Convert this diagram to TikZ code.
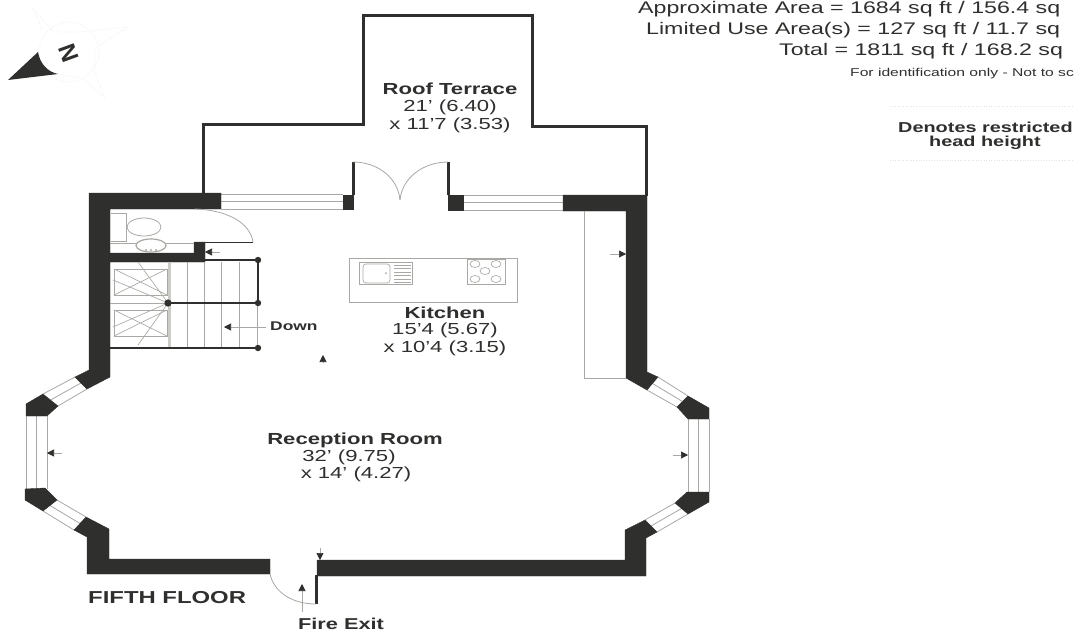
\documentclass[tikz,border=0pt]{standalone}
\usepackage{fontspec}
\setmainfont[FakeStretch=1.38]{Liberation Sans}
\newfontfamily\plainsans{Liberation Sans}
\usetikzlibrary{arrows.meta,calc}
\definecolor{ink}{HTML}{2F2F2D}
\definecolor{soft}{HTML}{A8A8A4}
\definecolor{faint}{HTML}{E2E2E0}
\tikzset{
  wall/.style={fill=ink,draw=ink,line width=0.4pt},
  thick wall/.style={draw=ink,line width=3pt,line cap=butt,line join=miter},
  stair wall/.style={draw=ink,line width=2.4pt},
  fine/.style={draw=soft,line width=0.8pt},
  finer/.style={draw=soft,line width=0.65pt},
  ghost/.style={draw=faint,line width=0.6pt,dotted},
  pointer/.style={draw=soft,line width=0.6pt,-{Triangle[length=7pt,width=7pt,color=ink]}},
  room/.style={font=\fontsize{16}{17}\selectfont\bfseries,text=ink,inner sep=0pt},
  size/.style={font=\fontsize{16}{17}\selectfont,text=ink,inner sep=0pt},
  area/.style={font=\fontsize{16.8}{18}\selectfont,text=ink,inner sep=0pt,anchor=west},
  small/.style={font=\fontsize{11.35}{12}\selectfont,text=ink,inner sep=0pt,anchor=west},
  note/.style={font=\fontsize{14.4}{15}\selectfont\bfseries,text=ink,inner sep=0pt},
}
\newcommand{\glazing}[4]{%
  \draw[fine] #1 -- #2;
  \draw[fine] #3 -- #4;
  \draw[fine] ($#1!0.5!#3$) -- ($#2!0.5!#4$);
}
\begin{document}
\begin{tikzpicture}[x=1pt,y=-1pt]
\useasboundingbox (0,0) rectangle (1074,633);
\fill[white] (0,0) rectangle (1074,633);
\clip (0,0) rectangle (1074,633);

% compass
\draw[ghost] (33,9) -- (54,32) -- (82,32) -- (128,27) -- (95,48) -- (95,72) -- (104,97) -- (82,78) -- (58,74);
\draw[ghost] (33,9) -- (42,30);
\draw[ghost] (69,52) circle (30);
\fill[ink] (8,80) -- (38,52) .. controls (40,64) and (48,72) .. (58,74) -- cycle;
\node[rotate=110,font=\plainsans\fontsize{24}{24}\selectfont\bfseries,text=ink,inner sep=0pt] (north) at (69,53) {N};

% roof terrace outline
\draw[thick wall] (203,194) -- (203,124.5) -- (363,124.5) -- (363,15.5) -- (532,15.5) -- (532,126.5) -- (646,126.5) -- (646,196);
\draw[thick wall] (353,195) -- (353,162);
\draw[thick wall] (448,195) -- (448,162);
\draw[fine] (353,162) .. controls (378,162) and (398,178) .. (400,200);
\draw[fine] (448,162) .. controls (423,162) and (402,178) .. (400,200);

% windows
\glazing{(221,194)}{(343,194)}{(221,209)}{(343,209)}
\glazing{(463,195)}{(563,195)}{(463,210)}{(563,210)}
\glazing{(26,416)}{(26,489)}{(47,416)}{(47,489)}
\glazing{(688,419)}{(688,492)}{(709,419)}{(709,492)}
\glazing{(43,394)}{(75,377)}{(58,406)}{(87,389)}
\glazing{(43,511)}{(74,530)}{(57,500)}{(86,517)}
\glazing{(688,396)}{(658,377)}{(677,407)}{(647,390)}
\glazing{(688,514)}{(657,532)}{(675,503)}{(645,520)}

% solid walls
\fill[wall] (89,193) -- (221,193) -- (221,209) -- (110,209) -- (110,253) -- (194,253) -- (194,242) -- (205,242) -- (205,262) -- (110,262) -- (110,377) -- (87,389) -- (75,377) -- (89,370) -- cycle;
\fill[wall] (343,195) -- (353,195) -- (353,209) -- (343,209) -- cycle;
\fill[wall] (448,195) -- (463,195) -- (463,210) -- (448,210) -- cycle;
\fill[wall] (563,195) -- (647,195) -- (647,372) -- (658,377) -- (647,390) -- (626,378) -- (626,211) -- (563,211) -- cycle;
\fill[wall] (43,394) -- (26,404) -- (26,416) -- (47,416) -- (58,406) -- cycle;
\fill[wall] (25,489) -- (25,500) -- (43,511) -- (57,500) -- (45,488) -- cycle;
\fill[wall] (74,530) -- (86,517) -- (109,529) -- (109,559) -- (270,559) -- (270,574) -- (87,574) -- (87,537) -- cycle;
\fill[wall] (317,560) -- (625,560) -- (625,530) -- (645,520) -- (657,532) -- (646,538) -- (646,576) -- (317,576) -- cycle;
\fill[wall] (677,407) -- (688,396) -- (709,408) -- (709,419) -- (688,419) -- cycle;
\fill[wall] (675,503) -- (687,492) -- (709,492) -- (709,502) -- (688,514) -- cycle;

% fire exit door
\draw[thick wall] (316.5,604) -- (316.5,575);
\draw[fine] (270,574) .. controls (274,592) and (292,604) .. (316,604);

% bathroom
\draw[draw=ink,line width=1.2pt] (205,242.5) -- (253,242.5);
\draw[fine] (195,209) .. controls (226,210) and (250,222) .. (253,242);
\draw[fine] (126,213) -- (111,213) (111,241) -- (126,241) -- (126,213);
\draw[fine] (144,227) ellipse (17 and 9);
\draw[finer] (110,243) -- (194,243);
\draw[draw=soft,line width=1.2pt,fill=white] (151,245.5) ellipse (15 and 6.5);
\fill[soft] (146,250) circle (1.2) (151,250) circle (1.2) (156,250) circle (1.2);

% stairs
\foreach \tx in {170,187,204,221,239,257}{\draw[finer] (\tx,262) -- (\tx,347);}
\draw[draw=soft!60,line width=2.4pt] (169.5,262) -- (169.5,347);
\draw[finer] (114,269) rectangle (167,295);
\draw[finer] (114,310) rectangle (167,336);
\draw[finer] (114,269) -- (167,295) (114,295) -- (167,269);
\draw[finer] (114,310) -- (167,336) (114,336) -- (167,310);
\draw[finer] (110,303) -- (168,303);
\draw[finer] (168,303) -- (113,280) (168,303) -- (138,262);
\draw[finer] (168,303) -- (113,327) (168,303) -- (138,345);
\draw[stair wall] (205,260) -- (258,260) -- (258,303) -- (168,303);
\draw[stair wall] (110,348) -- (258,348);
\fill[ink] (168,303) circle (3.6) (258,303) circle (3.2) (258,260) circle (3.2) (258,348) circle (3.2);

% kitchen fittings
\draw[finer] (349,258) rectangle (517,302);
\draw[finer] (359,262) rectangle (412,284);
\draw[finer,rounded corners=3pt] (363,264) rectangle (390,283);
\foreach \ty in {265,268.5,272,275.5,279,282.5}{\draw[draw=soft,line width=0.9pt] (394,\ty) -- (411,\ty);}
\fill[soft] (386,273) circle (1);
\draw[finer] (467,259) rectangle (505,284);
\draw[finer] (475,264) ellipse (5 and 3.5) (496,264) ellipse (5 and 3.5) (485,271) ellipse (5 and 3.5) (475,279) ellipse (5 and 3.5) (496,279) ellipse (5 and 3.5);
\draw[finer] (584,211) -- (584,378) -- (626,378);

% direction arrows
\coordinate (a1) at (266,327); \coordinate (a1t) at (224,327);
\coordinate (a2) at (220,252); \coordinate (a2t) at (205,252);
\coordinate (a3) at (610,254); \coordinate (a3t) at (626,254);
\coordinate (a4) at (62,453);  \coordinate (a4t) at (47,453);
\coordinate (a5) at (673,455); \coordinate (a5t) at (688,455);
\coordinate (a6) at (320,548); \coordinate (a6t) at (320,560);
\coordinate (a7) at (302,612); \coordinate (a7t) at (302,584);
\coordinate (a8) at (323,363); \coordinate (a8t) at (323,355);
\foreach \s/\e in {a1/a1t,a2/a2t,a3/a3t,a4/a4t,a5/a5t,a6/a6t,a7/a7t,a8/a8t}{\draw[pointer] (\s) -- (\e);}

% room labels
\node[room] (roof) at (450,88.5) {Roof Terrace};
\node[size] (roofa) at (450,107.5) {21' (6.40)};
\node[size] (roofb) at (450,125.5) {x 11'7 (3.53)};
\node[room] (kitchen) at (445,312.5) {Kitchen};
\node[size] (kita) at (445,330.5) {15'4 (5.67)};
\node[size] (kitb) at (445,348.5) {x 10'4 (3.15)};
\node[room] (reception) at (355,440) {Reception Room};
\node[size] (reca) at (349,457.5) {32' (9.75)};
\node[size] (recb) at (356,474.5) {x 14' (4.27)};
\node[note,font=\fontsize{12.6}{14}\selectfont\bfseries,anchor=west] (down) at (270,326) {Down};
\node[room,font=\fontsize{17.3}{19}\selectfont\bfseries,anchor=west] (floor) at (88,598) {FIFTH FLOOR};
\node[note,font=\fontsize{15.75}{16}\selectfont\bfseries] (fire) at (341,624) {Fire Exit};

% area legend
\node[area] (l1) at (638,9.5) {Approximate Area = 1684 sq ft / 156.4 sq};
\node[area] (l2) at (646,30.5) {Limited Use Area(s) = 127 sq ft / 11.7 sq};
\node[area] (l3) at (779,51) {Total = 1811 sq ft / 168.2 sq};
\node[small] (l4) at (850,74) {For identification only - Not to sc};
\node[note,anchor=west] (d1) at (898,127) {Denotes restricted};
\node[note,anchor=west] (d2) at (929,142.5) {head height};
\draw[ghost] (890,106) -- (1074,106) (890,160) -- (1074,160);
\end{tikzpicture}
\end{document}
